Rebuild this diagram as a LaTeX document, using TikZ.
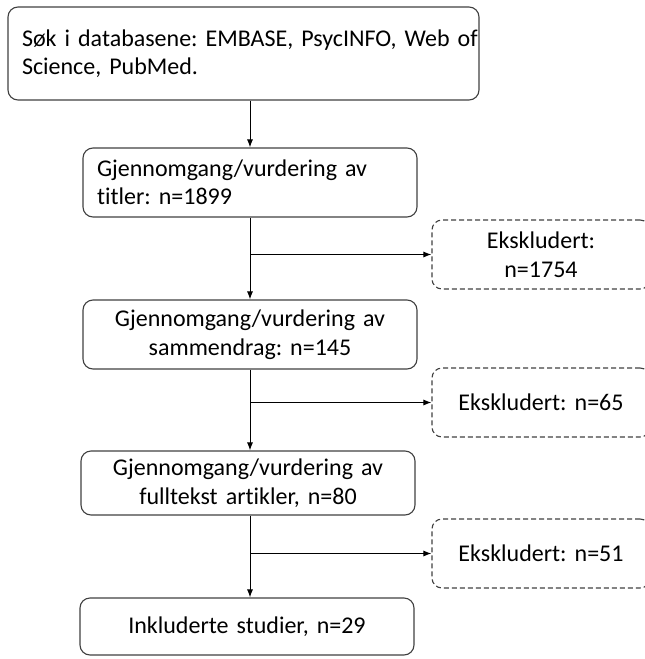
\documentclass[tikz,border=0pt]{standalone}
\usepackage{fontspec}
\setmainfont{Carlito}[Ligatures=NoCommon, WordSpace=0.8]
\usetikzlibrary{arrows.meta}
\frenchspacing

\begin{document}
\begin{tikzpicture}[x=1pt,y=-1pt]
\tikzstyle{every node}=[font=\fontsize{24}{28.5}\selectfont]
\tikzstyle{stage}=[
  draw=black!75,
  line width=1.1pt,
  rounded corners=10pt,
  inner xsep=14pt,
  inner ysep=0pt ]
\tikzstyle{screen}=[stage, text width=306pt, minimum height=69pt]
\tikzstyle{excluded}=[stage, dash pattern=on 5pt off 3pt, text width=190pt,
  minimum height=69pt, align=center]
\tikzstyle{flow}=[-{Latex[length=8pt,width=6pt]}, line width=1pt]
\useasboundingbox (0,0) rectangle (645,659);
\node[stage, text width=443pt, minimum height=93pt, align=left] (search) at (243.5,53.5)
  {\mbox{Søk i databasene: EMBASE, PsycINFO, Web of}\\Science, PubMed.};
\node[screen, align=left] (titles) at (250,182.5) {Gjennomgang/vurdering av\\titler: n=1899};
\node[screen, align=center] (abstracts) at (250,334.5) {Gjennomgang/vurdering av\\sammendrag: n=145};
\node[screen, align=center, minimum height=64pt] (fulltext) at (248,483) {Gjennomgang/vurdering av\\fulltekst artikler, n=80};
\node[screen, align=center, minimum height=57pt] (included) at (247,626.5) {Inkluderte studier, n=29};
\node[excluded] (excl1) at (541,254.5) {Ekskludert:\\n=1754};
\node[excluded] (excl2) at (541,402.5) {Ekskludert: n=65};
\node[excluded] (excl3) at (541,553.5) {Ekskludert: n=51};
\draw[flow] (search.south -| titles.north) -- (titles.north);
\draw[flow] (titles.south) -- (abstracts.north);
\draw[flow] (titles.south |- excl1.west) -- (excl1.west);
\draw[flow] (abstracts.south) -- (abstracts.south |- fulltext.north);
\draw[flow] (abstracts.south |- excl2.west) -- (excl2.west);
\draw[flow] (abstracts.south |- fulltext.south) -- (abstracts.south |- included.north);
\draw[flow] (abstracts.south |- excl3.west) -- (excl3.west);
\end{tikzpicture}
\end{document}
